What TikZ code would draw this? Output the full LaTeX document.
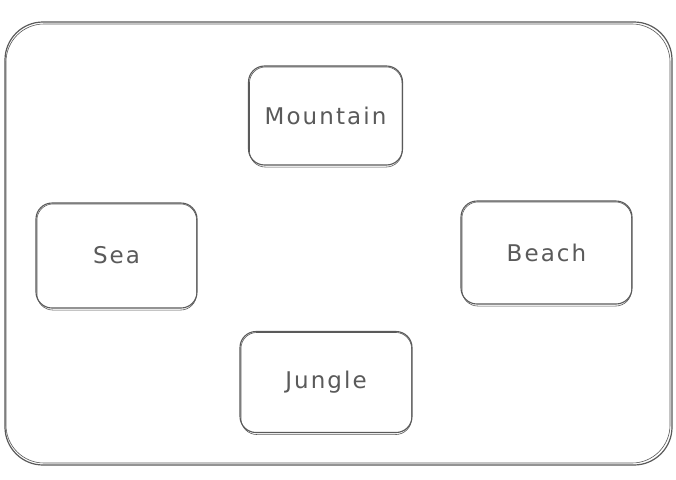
\documentclass[tikz,border=0pt]{standalone}
\usepackage{fontspec}
\setmainfont{DejaVu Sans}[LetterSpace=9]
\definecolor{ink}{HTML}{5A5A5A}
\tikzset{
  x=1pt, y=-1pt,
  box/.style={draw=ink, line width=1.1pt, rounded corners=16pt, text=ink,
    font=\fontsize{23}{26}\selectfont, inner sep=0pt},
  sketch/.style={draw=ink, line width=0.6pt, rounded corners=16pt},
  outer/.style={draw=ink, line width=1.2pt, rounded corners=38pt}
}
\begin{document}
\begin{tikzpicture}
\useasboundingbox (0,0) rectangle (676,479);
\fill[white] (0,0) rectangle (676,479);
\draw[outer] (5,22) rectangle (672,465);
\draw[ink, line width=0.6pt, rounded corners=38pt] (6,24) rectangle (670,463);
\node[box, minimum width=154pt, minimum height=99pt] (m) at (325.5,115.5) {Mountain};
\node[box, minimum width=161pt, minimum height=105pt] (s) at (116.5,255.5) {Sea};
\node[box, minimum width=171pt, minimum height=103pt] (b) at (546.5,252.5) {Beach};
\node[box, minimum width=172pt, minimum height=101pt] (j) at (326,382) {Jungle};
\foreach \n in {m,s,b,j}{
  \draw[sketch] ([shift={(1.5,1.5)}]\n.north west) rectangle ([shift={(-1,1.5)}]\n.south east);
}
\end{tikzpicture}
\end{document}
